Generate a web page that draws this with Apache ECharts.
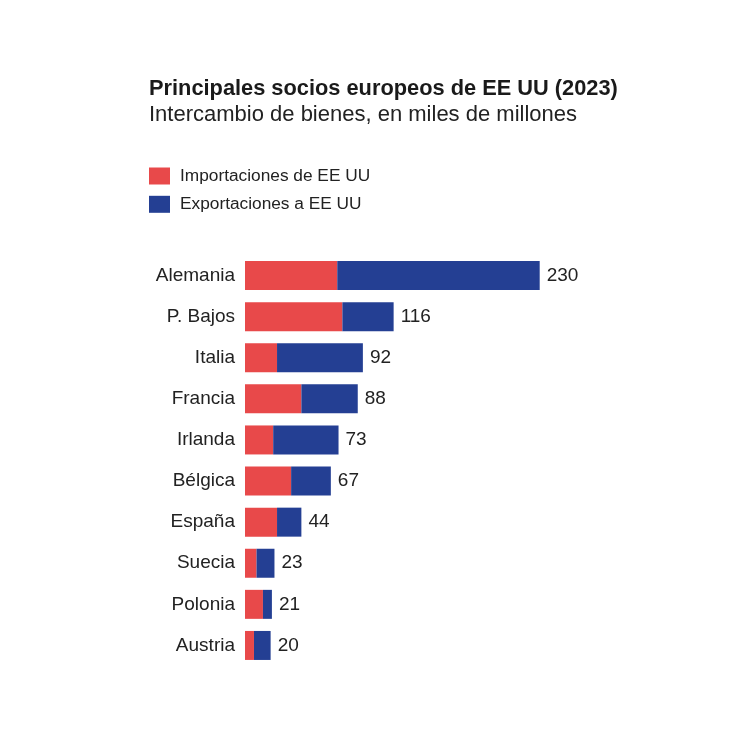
<!DOCTYPE html>
<html><head><meta charset="utf-8">
<script src="https://cdn.jsdelivr.net/npm/echarts@6/dist/echarts.min.js"></script>
<style>html,body{margin:0;padding:0;background:#fff}#c{width:743px;height:750px}</style>
</head><body><div id="c"></div>
<script>
const countries = ["Alemania","P. Bajos","Italia","Francia","Irlanda","Bélgica","España","Suecia","Polonia","Austria"];
const importaciones = [72, 76, 25, 44, 22, 36, 25, 9, 14, 7];
const exportaciones = [158, 40, 67, 44, 51, 31, 19, 14, 7, 13];
const totales = [230, 116, 92, 88, 73, 67, 44, 23, 21, 20];
const titleText = "Principales socios europeos de EE UU (2023)";
const subtitleText = "Intercambio de bienes, en miles de millones";
const seriesNames = ["Importaciones de EE UU", "Exportaciones a EE UU"];

const RED = "#e8494a", BLUE = "#243f93";
const FONT = "Liberation Sans";
const chart = echarts.init(document.getElementById("c"));
chart.setOption({
  backgroundColor: "#fff",
  animation: false,
  title: [
    {text: titleText, left: 149, top: 78, padding: 0, textStyle: {fontFamily: FONT, fontWeight: "bold", fontSize: 21.8, color: "#1a1a1a"}},
    {text: subtitleText, left: 149, top: 104, padding: 0, textStyle: {fontFamily: FONT, fontWeight: "normal", fontSize: 22, color: "#222"}}
  ],
  legend: {
    orient: "vertical", left: 149, top: 167.5, padding: 0, itemWidth: 21, itemHeight: 17, itemGap: 11.3,
    icon: "rect",
    data: seriesNames,
    textStyle: {fontFamily: FONT, fontSize: 17.3, color: "#222", padding: [0,0,0,5]}
  },
  grid: {left: 245, top: 255, width: 294.7, height: 411},
  xAxis: {type: "value", min: 0, max: 230, show: false},
  yAxis: {
    type: "category", data: countries, inverse: true,
    axisLine: {show: false}, axisTick: {show: false},
    axisLabel: {fontFamily: FONT, fontSize: 19, color: "#222", margin: 10}
  },
  series: [
    {name: seriesNames[0], type: "bar", stack: "t", data: importaciones, barWidth: 29, itemStyle: {color: RED}},
    {name: seriesNames[1], type: "bar", stack: "t", data: exportaciones, barWidth: 29, itemStyle: {color: BLUE},
     label: {show: true, position: "right", distance: 7, fontFamily: FONT, fontSize: 19, color: "#222",
       formatter: p => String(totales[p.dataIndex])}}
  ]
});
</script></body></html>
